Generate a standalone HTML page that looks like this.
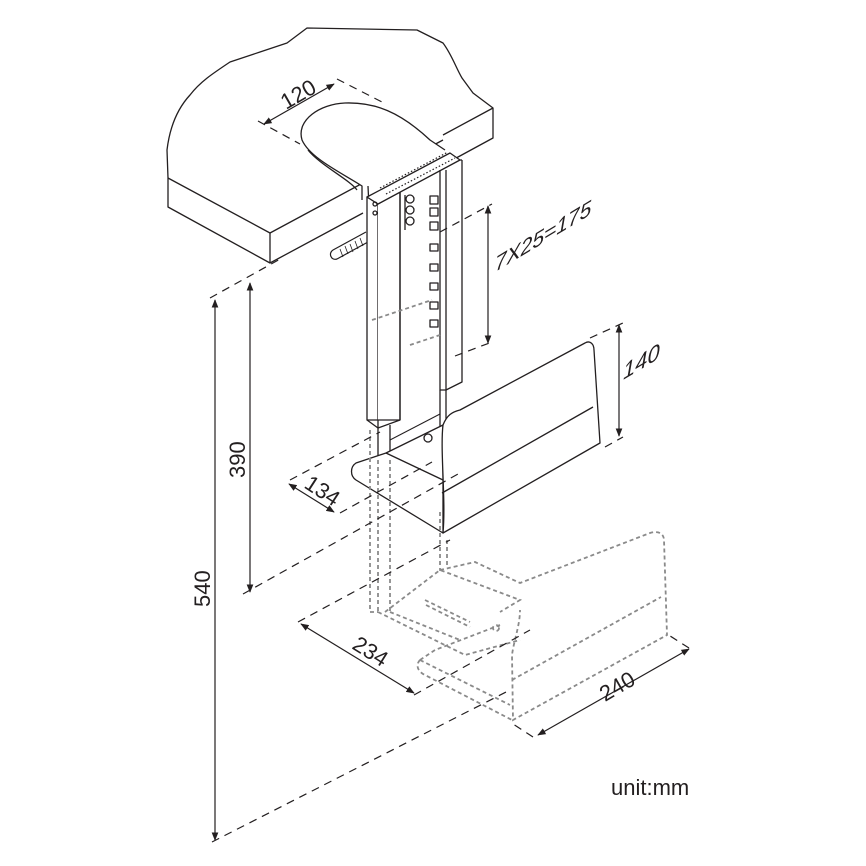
<!DOCTYPE html>
<html><head><meta charset="utf-8"><style>
html,body{margin:0;padding:0;background:#fff}
svg{display:block}
text{font-family:"Liberation Sans",Arial,sans-serif;fill:#231f20}
</style></head><body>
<svg width="866" height="866" viewBox="0 0 866 866" xmlns="http://www.w3.org/2000/svg">
<defs>
<marker id="a" viewBox="0 0 10 10" refX="9" refY="5" markerWidth="7" markerHeight="7" orient="auto-start-reverse"><path d="M0,1 L10,5 L0,9 Z" fill="#231f20"/></marker>
</defs>
<g fill="none" stroke="#231f20" stroke-width="1.3" stroke-linejoin="round">
<!-- desk -->
<path d="M168,178 L167,150 C170,125 178,108 190,95 C200,82 212,74 230,62 L260,52 L287,43 L307,28 L417,30 L443,43 C452,55 456,68 462,78 L473,93 L493,108 L493,138 L447,163" fill="#fff"/>
<path d="M168,178 L270,233 L443,140 M493,108 L443,135"/>
<path d="M168,178 L168,207 L270,263 L363,213 M270,233 L270,263"/>
<!-- bolt -->
<path d="M333,250 L366,232 M337,259 L368,242 M333,250 C328,253 331,261 337,259" stroke-width="1.2"/>
<path d="M340,249 l3,8 M345,246 l3,8 M350,244 l3,8 M355,241 l3,8 M360,238 l3,8" stroke-width="0.8"/>
<!-- strap loop -->
<path d="M362,200 L362,186 C340,172 310,158 302,140 C296,120 320,104 345,103 C375,102 400,112 430,140 L445,150 M368,186 L370,230" fill="#fff"/>
<path d="M357,190 C350,180 320,165 308,150"/>
<!-- column -->
<path d="M367,197 L367,420 L378,420 L378,204 L367,197 Z" fill="#fff"/>
<path d="M378,204 L400,192 L400,420 L378,420" fill="#fff"/>
<path d="M367,197 L378,204 L460,160 L450,153 Z" fill="#fff"/>
<path d="M400,192 L400,420 M400,420 L378,428 L367,420"/>
<path d="M440,170 L440,390 L446,390 L446,170 M446,390 L462,382 L462,160 M460,160 L462,160"/>
<path d="M405,195 L405,230 M378,420 L378,460 M390,425 L390,460 M440,390 L440,430 M446,390 L446,420"/>
<circle cx="375" cy="204" r="2"/><circle cx="375" cy="213" r="2"/>
<circle cx="410" cy="199" r="4"/><circle cx="410" cy="210" r="4"/><circle cx="410" cy="221" r="4"/>
<path d="M430,196 h8 v8 h-8 z M430,208 h8 v8 h-8 z M430,222 h8 v8 h-8 z M430,244 h8 v7 h-8 z M430,264 h8 v7 h-8 z M430,283 h8 v7 h-8 z M430,302 h8 v7 h-8 z M430,320 h8 v7 h-8 z"/>
<path d="M380,188 L448,152" stroke-dasharray="1.5 2" stroke-width="1.2"/>
<path d="M386,194 L455,158" stroke-dasharray="1.5 2" stroke-width="1.2"/>
<!-- shelf -->
<path d="M356,463 L386,453 L443,425 L443,533 L356,480 C350,476 350,467 356,463 Z" fill="#fff"/>
<path d="M386,453 L443,480"/>
<path d="M443,425 C447,415 452,412 460,410 L585,343 C590,340 594,344 594,350 L600,443 L443,533 C446,500 440,450 443,425 Z" fill="#fff"/>
<path d="M442,493 L593,407"/>
<path d="M390,440 L440,414" stroke-width="1"/>
<circle cx="428" cy="438" r="4" fill="#fff"/>
</g>
<!-- dashed ghost -->
<g fill="none" stroke="#8a8a8a" stroke-width="1.8" stroke-dasharray="4 3">
<path d="M370,430 L370,612 L378,612 M378,460 L378,612 M390,460 L390,612 M440,512 L440,570 L443,570 M447,540 L447,565"/>
<path d="M372,320 L432,300 M410,345 L440,335"/>
<path d="M385,612 L440,570 L520,600 L500,612 M378,612 L465,655 L520,640 M390,612 L460,640"/>
<path d="M425,600 L470,622 M426,605 L470,627"/>
<path d="M440,570 L475,562 L520,583 L650,533 C660,530 664,535 664,540 L667,635 L513,720 L512,655 C514,640 520,625 520,610"/>
<path d="M512,680 L661,597"/>
<path d="M420,660 L510,705 M420,660 C415,665 418,672 425,675 L512,720 M420,660 L435,650 L500,625"/>
<circle cx="496" cy="628" r="3"/>
</g>
<!-- dimension lines -->
<g fill="none" stroke="#231f20" stroke-width="1.2">
<path d="M258,121 L300,144 M337,79 L382,102" stroke-dasharray="8 6"/>
<path d="M264,124 L334,84" marker-start="url(#a)" marker-end="url(#a)"/>
<path d="M210,298 L282,258 M243,594 L458,474 M212,842 L510,690 M440,232 L492,204 M455,356 L492,342 M590,338 L623,323 M605,447 L623,437 M290,480 L380,432 M340,513 L432,462 M298,622 L450,540 M414,695 L530,630 M533,737 L510,722 M689,648 L667,634" stroke-dasharray="8 6"/>
<path d="M215,300 L215,840" marker-start="url(#a)" marker-end="url(#a)"/>
<path d="M250,283 L250,592" marker-start="url(#a)" marker-end="url(#a)"/>
<path d="M488,206 L488,343" marker-start="url(#a)" marker-end="url(#a)"/>
<path d="M619,325 L619,436" marker-start="url(#a)" marker-end="url(#a)"/>
<path d="M289,484 L334,512" marker-start="url(#a)" marker-end="url(#a)"/>
<path d="M301,624 L414,693" marker-start="url(#a)" marker-end="url(#a)"/>
<path d="M538,735 L689,649" marker-start="url(#a)" marker-end="url(#a)"/>
</g>
<g font-size="22">
<text transform="translate(286,110) rotate(-30)">120</text>
<text transform="translate(210,607) rotate(-90)">540</text>
<text transform="translate(245,478) rotate(-90)">390</text>
<text font-style="italic" font-size="21" transform="translate(495,272) skewY(-31)">7X25=175</text>
<text font-style="italic" transform="translate(623,380) skewY(-31)">140</text>
<text transform="translate(303,487) rotate(33)">134</text>
<text transform="translate(351,648) rotate(32)">234</text>
<text transform="translate(605,702) rotate(-30)">240</text>
<text x="611" y="795">unit:mm</text>
</g>
</svg>
</body></html>
